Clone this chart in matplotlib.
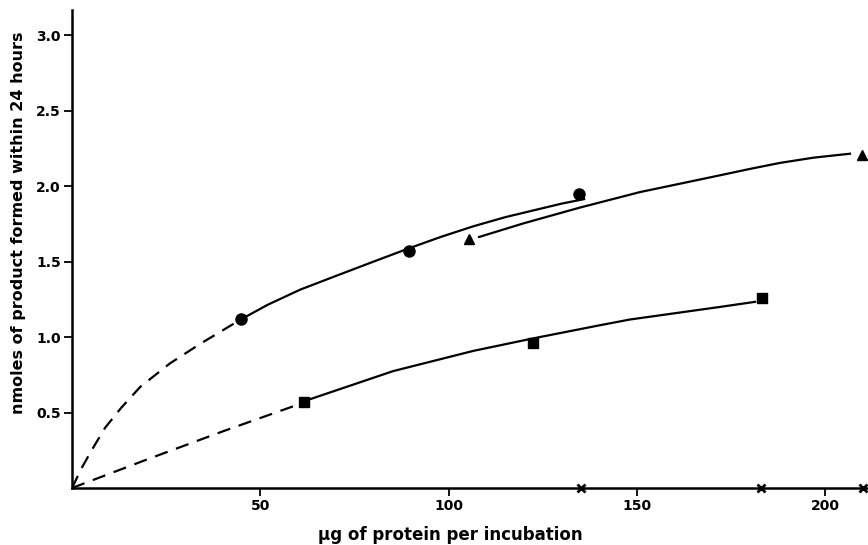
import matplotlib
matplotlib.use("Agg")
import matplotlib.pyplot as plt

# ---- data ----
circle_x = [44.8, 89.6, 134.7]
circle_y = [1.117, 1.57, 1.947]
triangle_x = [105.5, 209.8]
triangle_y = [1.65, 2.21]
square_x = [61.6, 122.3, 183.2]
square_y = [0.567, 0.962, 1.26]
cross_x = [135.2, 183.0, 210.0]
cross_y = [0.0, 0.0, 0.0]

# hand-drawn curves
circ_dash_x = [0, 2.5, 5.2, 8.8, 13, 18.1, 26, 34, 44.8]
circ_dash_y = [0, 0.13, 0.25, 0.40, 0.53, 0.67, 0.826, 0.955, 1.117]
circ_solid_x = [44.8, 52, 60.6, 70, 80, 89.6, 98, 106.6, 115, 122.5, 130, 136]
circ_solid_y = [1.117, 1.215, 1.315, 1.405, 1.50, 1.59, 1.665, 1.735, 1.795, 1.84, 1.885, 1.915]
tri_solid_x = [108.1, 120, 134.9, 150.9, 162, 172.1, 180, 188, 197, 206.6]
tri_solid_y = [1.664, 1.755, 1.859, 1.962, 2.02, 2.073, 2.115, 2.155, 2.19, 2.216]
sq_dash_x = [0, 20, 40, 61.6]
sq_dash_y = [0, 0.19, 0.375, 0.567]
sq_solid_x = [61.6, 85.3, 106.6, 122.3, 140.2, 148.2, 172, 181.4]
sq_solid_y = [0.575, 0.775, 0.909, 0.991, 1.079, 1.117, 1.2, 1.234]

x_ticks = [50, 100, 150, 200]
y_ticks = [0.5, 1.0, 1.5, 2.0, 2.5, 3.0]
y_ticklabels = ["0.5", "1.0", "1.5", "2.0", "2.5", "3.0"]

plt.rcParams['font.family'] = ['DejaVu Sans']

fig = plt.figure(figsize=(8.68, 5.45), dpi=100)
ax = fig.add_axes([0.083, 0.1046, 0.917, 0.8774])
ax.set_xlim(0, 211.4)
ax.set_ylim(0, 3.17)

lw = 1.6
dash = (0, (6, 4))
ax.plot(circ_dash_x, circ_dash_y, color='black', lw=lw, linestyle=dash)
ax.plot(circ_solid_x, circ_solid_y, color='black', lw=lw)
ax.plot(tri_solid_x, tri_solid_y, color='black', lw=lw)
ax.plot(sq_dash_x, sq_dash_y, color='black', lw=lw, linestyle=dash)
ax.plot(sq_solid_x, sq_solid_y, color='black', lw=lw)

ax.plot(circle_x, circle_y, 'o', color='black', ms=8, clip_on=False)
ax.plot(triangle_x, triangle_y, '^', color='black', ms=7, clip_on=False)
ax.plot(square_x, square_y, 's', color='black', ms=6.5, clip_on=False)
ax.plot(cross_x, cross_y, 'x', color='black', ms=6, mew=2, clip_on=False, zorder=5)

for s in ['top', 'right']:
    ax.spines[s].set_visible(False)
for s in ['left', 'bottom']:
    ax.spines[s].set_linewidth(1.8)

ax.set_xticks(x_ticks)
ax.set_xticklabels([str(v) for v in x_ticks])
ax.set_yticks(y_ticks)
ax.set_yticklabels(y_ticklabels)
ax.tick_params(axis='both', direction='out', length=6, width=1.3, labelsize=10, pad=2)
for lab in ax.get_xticklabels() + ax.get_yticklabels():
    lab.set_fontweight('bold')

ax.set_xlabel("µg of protein per incubation", fontsize=12, fontweight='bold')
ax.set_ylabel("nmoles of product formed within 24 hours", fontsize=11.5, fontweight='bold')
ax.xaxis.set_label_coords(0.475, -0.08)
ax.yaxis.set_label_coords(-0.058, 0.554)

fig.savefig("out.png", dpi=100)
